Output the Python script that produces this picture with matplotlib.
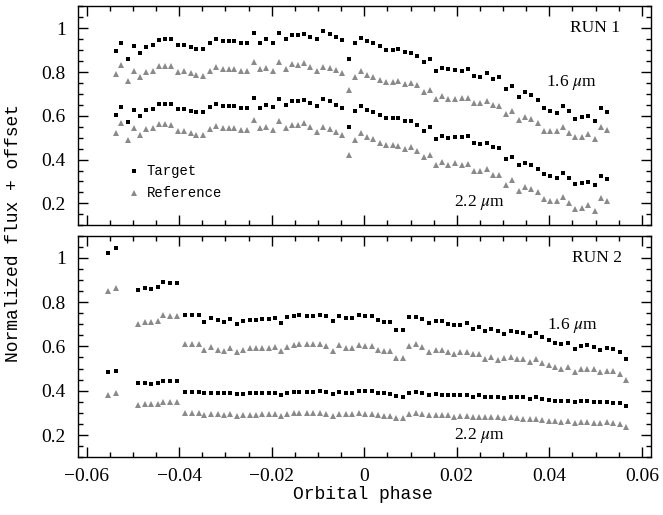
import matplotlib
matplotlib.use("Agg")
from matplotlib import pyplot as plt
from matplotlib.ticker import MultipleLocator, FuncFormatter

plt.rcParams['mathtext.fontset'] = 'stix'

# ---- RUN 1 ----
phase_run1 = [
    -0.0537, -0.0526, -0.0510, -0.0497, -0.0485, -0.0471, -0.0457, -0.0443, -0.0430, -0.0417,
    -0.0402, -0.0389, -0.0375, -0.0363, -0.0349, -0.0334, -0.0321, -0.0306, -0.0293, -0.0282,
    -0.0266, -0.0253, -0.0238, -0.0225, -0.0212, -0.0198, -0.0185, -0.0170, -0.0157, -0.0144,
    -0.0131, -0.0117, -0.0102, -0.0089, -0.0075, -0.0062, -0.0049, -0.0034, -0.0021, -0.0006,
    0.0006, 0.0019, 0.0035, 0.0046, 0.0062, 0.0074, 0.0087, 0.0102, 0.0115, 0.0129,
    0.0142, 0.0155, 0.0169, 0.0182, 0.0197, 0.0211, 0.0224, 0.0238, 0.0251, 0.0265,
    0.0279, 0.0292, 0.0306, 0.0320, 0.0334, 0.0347, 0.0360, 0.0375, 0.0388, 0.0402,
    0.0416, 0.0430, 0.0443, 0.0456, 0.0470, 0.0483, 0.0498, 0.0511, 0.0524,
]
target_h_run1 = [
    0.896, 0.934, 0.860, 0.919, 0.889, 0.916, 0.925, 0.947, 0.950, 0.951,
    0.924, 0.925, 0.916, 0.907, 0.907, 0.931, 0.953, 0.941, 0.941, 0.944,
    0.934, 0.934, 0.980, 0.934, 0.950, 0.934, 0.980, 0.950, 0.971, 0.971,
    0.974, 0.962, 0.950, 0.986, 0.974, 0.962, 0.947, 0.861, 0.934, 0.956,
    0.941, 0.931, 0.919, 0.901, 0.901, 0.904, 0.892, 0.889, 0.873, 0.846,
    0.858, 0.806, 0.819, 0.813, 0.809, 0.803, 0.813, 0.782, 0.776, 0.794,
    0.770, 0.776, 0.721, 0.736, 0.688, 0.709, 0.697, 0.672, 0.636, 0.623,
    0.614, 0.645, 0.620, 0.587, 0.593, 0.599, 0.578, 0.636, 0.617,
]
ref_h_run1 = [
    0.791, 0.831, 0.758, 0.806, 0.779, 0.802, 0.806, 0.828, 0.828, 0.826,
    0.802, 0.803, 0.794, 0.785, 0.784, 0.806, 0.823, 0.813, 0.814, 0.816,
    0.806, 0.806, 0.848, 0.813, 0.819, 0.806, 0.846, 0.816, 0.837, 0.834,
    0.840, 0.822, 0.806, 0.825, 0.819, 0.809, 0.797, 0.718, 0.779, 0.803,
    0.788, 0.776, 0.764, 0.755, 0.756, 0.758, 0.745, 0.752, 0.739, 0.709,
    0.718, 0.675, 0.691, 0.678, 0.678, 0.681, 0.681, 0.660, 0.657, 0.669,
    0.648, 0.645, 0.608, 0.623, 0.581, 0.596, 0.587, 0.566, 0.532, 0.529,
    0.529, 0.547, 0.520, 0.502, 0.505, 0.517, 0.495, 0.547, 0.535,
]
target_k_run1 = [
    0.605, 0.640, 0.570, 0.628, 0.598, 0.627, 0.633, 0.655, 0.655, 0.655,
    0.631, 0.630, 0.623, 0.616, 0.616, 0.639, 0.655, 0.646, 0.646, 0.646,
    0.637, 0.637, 0.680, 0.634, 0.648, 0.639, 0.678, 0.651, 0.669, 0.669,
    0.672, 0.657, 0.645, 0.675, 0.666, 0.651, 0.636, 0.550, 0.620, 0.645,
    0.627, 0.617, 0.602, 0.590, 0.590, 0.590, 0.576, 0.575, 0.559, 0.529,
    0.547, 0.495, 0.508, 0.498, 0.505, 0.502, 0.508, 0.477, 0.471, 0.477,
    0.459, 0.453, 0.404, 0.413, 0.373, 0.386, 0.377, 0.358, 0.334, 0.325,
    0.316, 0.340, 0.316, 0.288, 0.294, 0.297, 0.282, 0.325, 0.309,
]
ref_k_run1 = [
    0.523, 0.566, 0.489, 0.543, 0.512, 0.538, 0.544, 0.562, 0.562, 0.559,
    0.530, 0.530, 0.520, 0.512, 0.512, 0.538, 0.553, 0.543, 0.544, 0.544,
    0.535, 0.535, 0.581, 0.543, 0.547, 0.535, 0.578, 0.543, 0.559, 0.559,
    0.566, 0.547, 0.527, 0.547, 0.541, 0.526, 0.511, 0.419, 0.489, 0.520,
    0.502, 0.492, 0.477, 0.465, 0.465, 0.462, 0.450, 0.456, 0.441, 0.410,
    0.422, 0.377, 0.389, 0.373, 0.383, 0.377, 0.380, 0.346, 0.349, 0.355,
    0.331, 0.328, 0.285, 0.306, 0.258, 0.273, 0.264, 0.252, 0.218, 0.209,
    0.209, 0.230, 0.203, 0.175, 0.178, 0.194, 0.166, 0.224, 0.209,
]

# ---- RUN 2 ----
phase_run2 = [
    -0.0553, -0.0537,
    -0.0489, -0.0474, -0.0460, -0.0445, -0.0434, -0.0419, -0.0405,
    -0.0387, -0.0373, -0.0358, -0.0346, -0.0331, -0.0317, -0.0303, -0.0290, -0.0275, -0.0263,
    -0.0248, -0.0234, -0.0220, -0.0206, -0.0192, -0.0179, -0.0167, -0.0152, -0.0140, -0.0124,
    -0.0111, -0.0095, -0.0082, -0.0068, -0.0055, -0.0040, -0.0027, -0.0012, 0.0001, 0.0016,
    0.0029, 0.0043, 0.0056, 0.0069, 0.0084, 0.0097, 0.0111, 0.0124, 0.0139, 0.0155,
    0.0167, 0.0180, 0.0193, 0.0206, 0.0222, 0.0236, 0.0249, 0.0262, 0.0275, 0.0288,
    0.0303, 0.0317, 0.0330, 0.0343, 0.0358, 0.0371, 0.0385, 0.0400, 0.0413, 0.0426,
    0.0440, 0.0456, 0.0469, 0.0482, 0.0497, 0.0510, 0.0524, 0.0537, 0.0552, 0.0566,
]
target_h_run2 = [
    1.023, 1.042,
    0.854, 0.862, 0.859, 0.866, 0.892, 0.886, 0.886,
    0.744, 0.741, 0.740, 0.711, 0.729, 0.719, 0.711, 0.723, 0.702, 0.714,
    0.719, 0.720, 0.725, 0.725, 0.726, 0.707, 0.731, 0.735, 0.741, 0.738,
    0.738, 0.744, 0.738, 0.714, 0.738, 0.728, 0.728, 0.741, 0.738, 0.738,
    0.717, 0.711, 0.711, 0.675, 0.672, 0.731, 0.734, 0.723, 0.704, 0.716,
    0.715, 0.701, 0.695, 0.695, 0.704, 0.677, 0.689, 0.668, 0.677, 0.671,
    0.656, 0.668, 0.665, 0.662, 0.647, 0.659, 0.644, 0.629, 0.614, 0.611,
    0.617, 0.590, 0.602, 0.605, 0.596, 0.584, 0.593, 0.590, 0.575, 0.545,
]
ref_h_run2 = [
    0.850, 0.865,
    0.702, 0.711, 0.710, 0.716, 0.744, 0.738, 0.738,
    0.609, 0.611, 0.609, 0.582, 0.597, 0.585, 0.579, 0.591, 0.573, 0.585,
    0.591, 0.591, 0.594, 0.594, 0.598, 0.579, 0.597, 0.606, 0.612, 0.609,
    0.609, 0.609, 0.603, 0.579, 0.606, 0.594, 0.594, 0.606, 0.603, 0.603,
    0.585, 0.579, 0.580, 0.547, 0.547, 0.603, 0.609, 0.598, 0.576, 0.586,
    0.583, 0.574, 0.568, 0.574, 0.577, 0.565, 0.568, 0.544, 0.553, 0.538,
    0.547, 0.553, 0.544, 0.541, 0.529, 0.541, 0.523, 0.514, 0.508, 0.499,
    0.508, 0.484, 0.499, 0.499, 0.496, 0.484, 0.490, 0.487, 0.475, 0.448,
]
target_k_run2 = [
    0.483, 0.489,
    0.433, 0.433, 0.432, 0.435, 0.444, 0.442, 0.442,
    0.395, 0.395, 0.395, 0.388, 0.392, 0.389, 0.388, 0.391, 0.385, 0.386,
    0.388, 0.389, 0.389, 0.389, 0.391, 0.383, 0.392, 0.395, 0.395, 0.395,
    0.394, 0.398, 0.395, 0.386, 0.394, 0.392, 0.392, 0.398, 0.397, 0.397,
    0.388, 0.388, 0.386, 0.374, 0.373, 0.392, 0.395, 0.388, 0.380, 0.385,
    0.382, 0.382, 0.382, 0.382, 0.382, 0.373, 0.379, 0.373, 0.373, 0.373,
    0.367, 0.373, 0.373, 0.370, 0.364, 0.370, 0.361, 0.358, 0.355, 0.355,
    0.355, 0.349, 0.352, 0.352, 0.349, 0.349, 0.349, 0.346, 0.343, 0.331,
]
ref_k_run2 = [
    0.383, 0.388,
    0.335, 0.340, 0.338, 0.340, 0.350, 0.347, 0.347,
    0.298, 0.299, 0.298, 0.290, 0.296, 0.293, 0.289, 0.293, 0.287, 0.290,
    0.290, 0.292, 0.296, 0.296, 0.296, 0.287, 0.296, 0.301, 0.301, 0.299,
    0.298, 0.301, 0.296, 0.287, 0.296, 0.293, 0.293, 0.298, 0.296, 0.296,
    0.290, 0.287, 0.287, 0.275, 0.275, 0.296, 0.301, 0.295, 0.289, 0.292,
    0.289, 0.289, 0.283, 0.286, 0.286, 0.283, 0.283, 0.280, 0.283, 0.280,
    0.277, 0.280, 0.277, 0.274, 0.271, 0.274, 0.268, 0.265, 0.262, 0.259,
    0.262, 0.256, 0.259, 0.259, 0.256, 0.256, 0.259, 0.256, 0.250, 0.235,
]

black = 'black'
grey = '#8a8a8a'
serif = 'Liberation Serif'
mono = 'Liberation Mono'


def fmt(v, pos):
    s = '%g' % round(v, 4)
    return s.replace('-', '\u2212')


def style_axis(ax):
    ax.set_xlim(-0.0618, 0.0619)
    ax.set_ylim(0.1, 1.1)
    ax.xaxis.set_major_locator(MultipleLocator(0.02))
    ax.xaxis.set_minor_locator(MultipleLocator(0.005))
    ax.yaxis.set_major_locator(MultipleLocator(0.2))
    ax.yaxis.set_minor_locator(MultipleLocator(0.05))
    ax.tick_params(which='both', direction='in', top=True, right=True, width=1.0)
    ax.tick_params(which='major', length=7)
    ax.tick_params(which='minor', length=3.5)
    ax.tick_params(axis='y', pad=9)
    ax.tick_params(axis='x', pad=8)
    ax.xaxis.set_major_formatter(FuncFormatter(fmt))
    ax.yaxis.set_major_formatter(FuncFormatter(fmt))
    for lab in ax.get_xticklabels() + ax.get_yticklabels():
        lab.set_fontfamily(serif)
        lab.set_fontsize(14)
    for sp in ax.spines.values():
        sp.set_linewidth(1.0)


def draw_run(ax, phase, th, rh, tk, rk):
    ax.plot(phase, th, 's', color=black, ms=3.4, mew=0)
    ax.plot(phase, rh, '^', color=grey, ms=4.2, mew=0)
    ax.plot(phase, tk, 's', color=black, ms=3.4, mew=0)
    ax.plot(phase, rk, '^', color=grey, ms=4.2, mew=0)


fig = plt.figure(figsize=(6.63, 5.15), dpi=100)
ax1 = fig.add_axes([0.1181, 0.5627, 0.8633, 0.4249])
ax2 = fig.add_axes([0.1181, 0.1122, 0.8633, 0.4303])

draw_run(ax1, phase_run1, target_h_run1, ref_h_run1, target_k_run1, ref_k_run1)
draw_run(ax2, phase_run2, target_h_run2, ref_h_run2, target_k_run2, ref_k_run2)

style_axis(ax1)
style_axis(ax2)
ax1.tick_params(labelbottom=False)

ax1.text(0.0553, 1.0, 'RUN 1', ha='right', va='center', fontsize=12.5, family=serif)
ax2.text(0.0557, 1.0, 'RUN 2', ha='right', va='center', fontsize=12.5, family=serif)
ax1.text(0.0447, 0.754, r'1.6 $\mu$m', ha='center', va='center', fontsize=12.5, family=serif)
ax1.text(0.0248, 0.206, r'2.2 $\mu$m', ha='center', va='center', fontsize=12.5, family=serif)
ax2.text(0.0449, 0.696, r'1.6 $\mu$m', ha='center', va='center', fontsize=12.5, family=serif)
ax2.text(0.0248, 0.200, r'2.2 $\mu$m', ha='center', va='center', fontsize=12.5, family=serif)

# legend by hand, like the original plot
ax1.plot([-0.0498], [0.348], 's', color=black, ms=3.4, mew=0)
ax1.plot([-0.0498], [0.247], '^', color=grey, ms=4.2, mew=0)
ax1.text(-0.0470, 0.348, 'Target', ha='left', va='center', fontsize=10, family=mono)
ax1.text(-0.0470, 0.247, 'Reference', ha='left', va='center', fontsize=10, family=mono)

fig.text(0.5478, 0.040, 'Orbital phase', ha='center', va='center', fontsize=13, family=mono)
fig.text(0.020, 0.548, 'Normalized flux + offset', ha='center', va='center',
         rotation=90, fontsize=13, family=mono)

fig.savefig('out.png', dpi=100)
